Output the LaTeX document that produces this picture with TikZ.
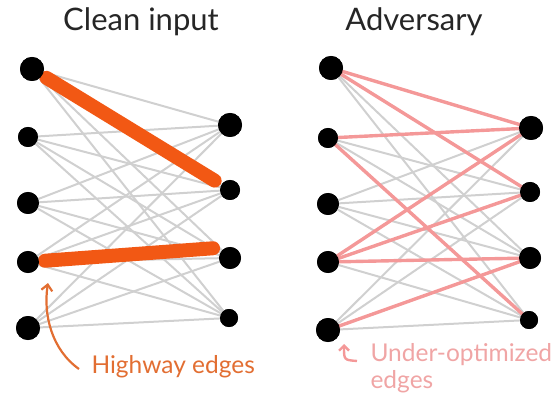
\documentclass[tikz,border=0pt]{standalone}
\usepackage{fontspec}
\setmainfont{Lato}
\usetikzlibrary{arrows.meta}
\definecolor{hwy}{RGB}{242,88,20}
\definecolor{hwytext}{RGB}{226,110,50}
\definecolor{pinkedge}{RGB}{244,152,152}
\definecolor{pinktext}{RGB}{240,165,165}
\definecolor{grayedge}{RGB}{208,208,208}
\tikzset{
  neuron/.style={circle, fill=black, inner sep=0pt, minimum size=#1},
  gedge/.style={draw=grayedge, line width=2pt},
  hedge/.style={draw=hwy, line width=14pt, line cap=round},
  pedge/.style={draw=pinkedge, line width=3.4pt},
  title/.style={font=\fontsize{31}{34}\selectfont, text=black!85},
  lbl/.style={font=\fontsize{24.5}{28}\selectfont}
}
\begin{document}
\begin{tikzpicture}[x=1pt,y=-1pt]
\useasboundingbox (0,0) rectangle (551,403);
% nodes
\node[neuron=24pt] (a1) at (32,69) {};
\node[neuron=20pt] (a2) at (28,137) {};
\node[neuron=22pt] (a3) at (28,203) {};
\node[neuron=22pt] (a4) at (28,262) {};
\node[neuron=24pt] (a5) at (28,328) {};
\node[neuron=24pt] (b1) at (230,125) {};
\node[neuron=20pt] (b2) at (230,190) {};
\node[neuron=22pt] (b3) at (230,258) {};
\node[neuron=18pt] (b4) at (229,318) {};
\node[neuron=24pt] (c1) at (331,68) {};
\node[neuron=20pt] (c2) at (328,138) {};
\node[neuron=22pt] (c3) at (328,204) {};
\node[neuron=22pt] (c4) at (328,262) {};
\node[neuron=24pt] (c5) at (328,330) {};
\node[neuron=24pt] (d1) at (531,128) {};
\node[neuron=20pt] (d2) at (530,192) {};
\node[neuron=22pt] (d3) at (530,258) {};
\node[neuron=18pt] (d4) at (529,320) {};
% gray edges
\foreach \i in {1,...,5} {
  \foreach \j in {1,...,4} {
    \path[gedge] (a\i.center) -- (b\j.center);
    \path[gedge] (c\i.center) -- (d\j.center);
  }
}
% highway edges
\path[hedge, shorten <=17pt, shorten >=18pt] (a1.center) -- (b2.center);
\path[hedge, shorten <=17pt, shorten >=17pt] (a4.center) -- ([yshift=11pt]b3.center);
% under-optimized edges
\foreach \s/\t in {c1/d1, c1/d2, c2/d1, c2/d4, c4/d1, c4/d2, c4/d3, c5/d3} {
  \path[pedge] (\s.center) -- (\t.center);
}
% redraw node discs on top of the edges
\foreach \n/\s in {a1/24, a2/20, a3/22, a4/22, a5/24, b1/24, b2/20, b3/22, b4/18,
  c1/24, c2/20, c3/22, c4/22, c5/24, d1/24, d2/20, d3/22, d4/18} {
  \fill[black] (\n.center) circle[radius=\s/2];
}
% titles
\node[title] (t1) at (141,22) {Clean input};
\node[title] (t2) at (414,22) {Adversary};
% labels
\node[lbl, text=hwytext, anchor=west] (hl) at (88,367) {Highway edges};
\coordinate (hs) at (79,369);
\coordinate (he) at (48,283);
\draw[hwytext, line width=2.2pt, -{Straight Barb[length=6pt,width=11pt]}] (hs) .. controls (52,350) and (43,315) .. (he);
\node[lbl, text=pinktext, anchor=west] (ul) at (367,355) {Under-optimized};
\node[lbl, text=pinktext, anchor=west] (ul2) at (367,382) {edges};
\coordinate (us) at (357,361);
\coordinate (ue) at (344,344);
\draw[pinkedge, line width=2.4pt, -{Straight Barb[length=5pt,width=10pt]}] (us) .. controls (344,360) .. (ue);
\end{tikzpicture}
\end{document}
